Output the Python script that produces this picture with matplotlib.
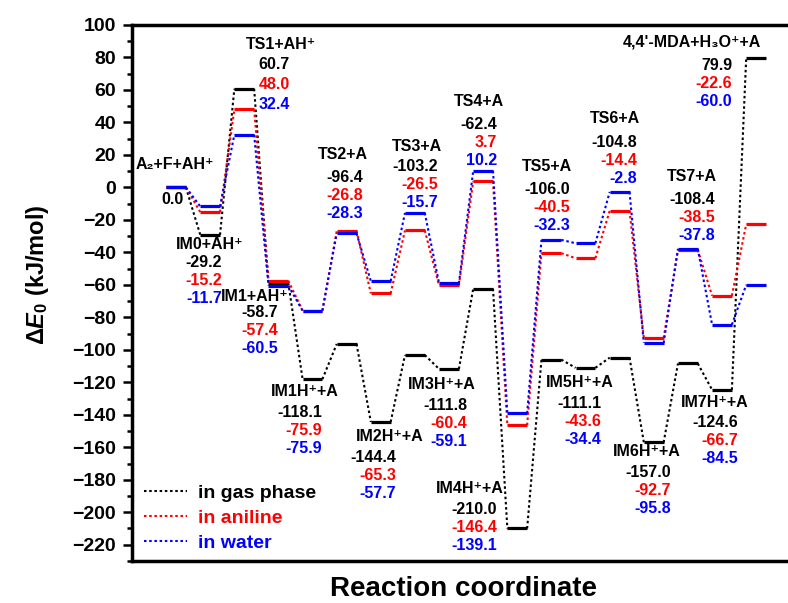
import numpy as np
import matplotlib
matplotlib.use('Agg')
import matplotlib.pyplot as plt
from matplotlib.lines import Line2D
from matplotlib.ticker import MultipleLocator

plt.rcParams['font.family'] = ['Liberation Sans', 'DejaVu Sans']
plt.rcParams['font.weight'] = 'bold'
plt.rcParams['axes.labelweight'] = 'bold'
plt.rcParams['mathtext.fontset'] = 'custom'
plt.rcParams['mathtext.rm'] = 'Liberation Sans:bold'
plt.rcParams['mathtext.it'] = 'Liberation Sans:italic:bold'
plt.rcParams['mathtext.bf'] = 'Liberation Sans:bold'

# species along the reaction coordinate
species = ['A₂+F+AH⁺', 'IM0+AH⁺', 'TS1+AH⁺', 'IM1+AH⁺', 'IM1H⁺+A',
           'TS2+A', 'IM2H⁺+A', 'TS3+A', 'IM3H⁺+A', 'TS4+A', 'IM4H⁺+A',
           'TS5+A', 'IM5H⁺+A', 'TS6+A', 'IM6H⁺+A', 'TS7+A', 'IM7H⁺+A',
           "4,4'-MDA+H₃O⁺+A"]

# relative energies, kJ/mol
gas = [0.0, -29.2, 60.7, -58.7, -118.1, -96.4, -144.4, -103.2, -111.8, -62.4,
       -210.0, -106.0, -111.1, -104.8, -157.0, -108.4, -124.6, 79.9]
aniline = [0.0, -15.2, 48.0, -57.4, -75.9, -26.8, -65.3, -26.5, -60.4, 3.7,
           -146.4, -40.5, -43.6, -14.4, -92.7, -38.5, -66.7, -22.6]
water = [0.0, -11.7, 32.4, -60.5, -75.9, -28.3, -57.7, -15.7, -59.1, 10.2,
         -139.1, -32.3, -34.4, -2.8, -95.8, -37.8, -84.5, -60.0]

series_names = ['in gas phase', 'in aniline', 'in water']
colors = ['black', 'red', 'blue']

# where the text labels sit (data coords)
name_x = [-0.03, 1.0, 3.08, 2.32, 3.78, 4.89, 6.27, 7.06, 7.80, 8.88, 8.62,
          10.87, 11.84, 12.87, 13.80, 15.12, 15.80, 15.12]
name_y = [13.8, -35.4, 87.7, -67.4, -125.8, 20.0, -153.5, 24.9, -121.5, 52.6,
          -185.5, 12.6, -120.3, 42.2, -162.8, 6.5, -132.6, 89.5]
num_x = [0.21, 1.35, 3.34, 2.99, 4.28, 5.48, 6.45, 7.68, 8.53, 9.41, 9.41,
         11.55, 12.46, 13.51, 14.51, 15.80, 16.47, 16.30]
num_y = [-7.7, -46.5, 75.4, -77.2, -138.8, 5.8, -166.5, 12.6, -134.5, 38.5,
         -198.5, -1.5, -133.2, 27.4, -175.7, -7.7, -144.9, 74.8]

fig = plt.figure(figsize=(7.88, 6.03), dpi=100)
ax = fig.add_axes([0.1675, 0.0697, 0.8414, 0.8889])

x = np.arange(len(species))
hw = 0.29
for vals, c in zip([gas, aniline, water], colors):
    vals = np.array(vals)
    for i in range(len(vals) - 1):
        ax.plot([x[i] + hw, x[i + 1] - hw], [vals[i], vals[i + 1]],
                color=c, ls=(0, (1.2, 1.3)), lw=1.5)
    ax.hlines(vals, x - hw, x + hw, color=c, lw=2.3)

fs = 11.5
for i, name in enumerate(species):
    ax.text(name_x[i], name_y[i], name, ha='center', va='center', fontsize=fs,
            fontweight='bold')
    step = 12.3 if i == 2 else 10.9
    data = [gas, aniline, water] if i > 0 else [gas]
    for k, vals in enumerate(data):
        ax.text(num_x[i], num_y[i] - k * step, f'{vals[i]:.1f}', ha='right',
                va='center', fontsize=fs, color=colors[k], fontweight='bold')

ax.set_xlim(-1.29, 18.14)
ax.set_ylim(-230, 100)
ax.set_xticks([])
ax.yaxis.set_major_locator(MultipleLocator(20))
ax.yaxis.set_minor_locator(MultipleLocator(10))
ax.tick_params(axis='y', which='major', direction='out', length=6.5, width=1.8,
               labelsize=14, pad=5)
ax.tick_params(axis='y', which='minor', direction='out', length=3.5, width=1.8)
for lab in ax.get_yticklabels():
    lab.set_fontweight('bold')
for sp in ax.spines.values():
    sp.set_linewidth(2.5)

ax.set_ylabel(r'$\Delta\mathit{E}_0$ (kJ/mol)', fontsize=17, fontweight='bold')
ax.yaxis.set_label_coords(-0.122, 0.534)
ax.set_xlabel('Reaction coordinate', fontsize=20, fontweight='bold')
ax.xaxis.set_label_coords(0.5, -0.028)

handles = [Line2D([], [], color=c, ls=(0, (1.2, 1.3)), lw=1.5) for c in colors]
ax.legend(handles, series_names, loc='lower left', bbox_to_anchor=(0.018, 0.017),
          frameon=False, handlelength=2.2, handletextpad=0.6,
          labelspacing=0.38, borderpad=0, borderaxespad=0, labelcolor=colors,
          prop={'size': 14, 'weight': 'bold'})

fig.savefig('out.png', dpi=100)
